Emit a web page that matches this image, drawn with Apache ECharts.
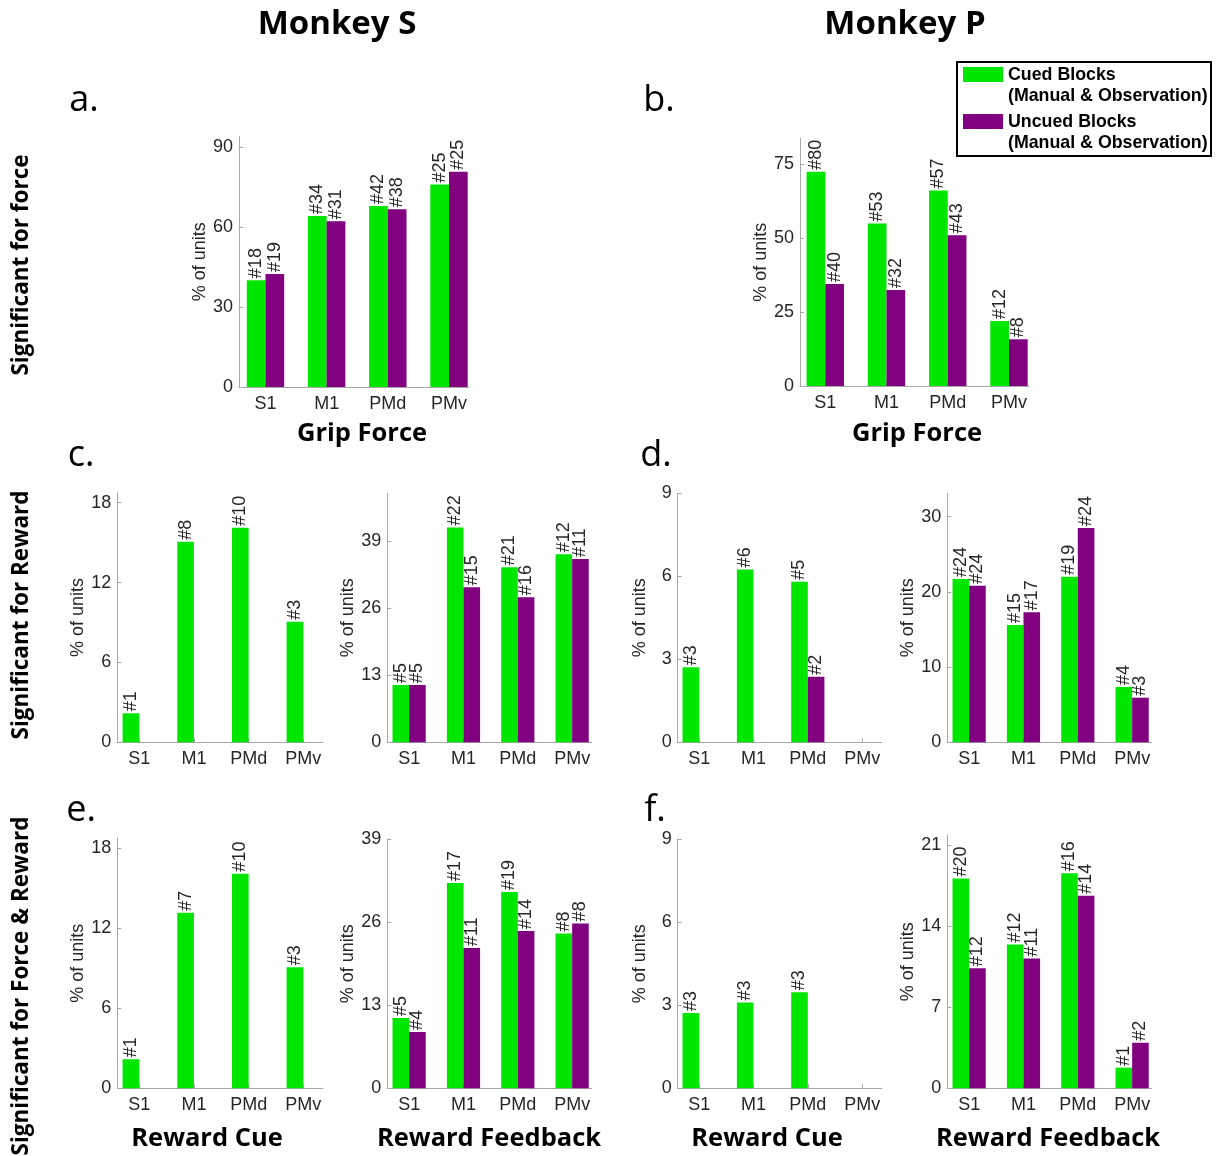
<!DOCTYPE html>
<html><head><meta charset="utf-8">
<script src="https://cdn.jsdelivr.net/npm/echarts@6/dist/echarts.min.js"></script>
<style>html,body{margin:0;padding:0;background:#fff}#c{width:1225px;height:1156px}</style>
</head><body><div id="c"></div>
<script>
// ---------- DATA ----------
const regions = ['S1', 'M1', 'PMd', 'PMv'];
const seriesNames = ['Cued Blocks (Manual & Observation)', 'Uncued Blocks (Manual & Observation)'];

// a. Monkey S, grip force
const aCued = [40.1, 64.2, 67.9, 76.0];
const aCuedN = [18, 34, 42, 25];
const aUncued = [42.4, 62.2, 66.7, 80.8];
const aUncuedN = [19, 31, 38, 25];
// b. Monkey P, grip force
const bCued = [72.5, 55.0, 66.1, 22.0];
const bCuedN = [80, 53, 57, 12];
const bUncued = [34.5, 32.5, 51.0, 15.8];
const bUncuedN = [40, 32, 43, 8];
// c. Monkey S, reward cue
const c1Cued = [2.18, 15.07, 16.12, 9.06];
const c1CuedN = [1, 8, 10, 3];
const c1Uncued = [null, null, null, null];
const c1UncuedN = [null, null, null, null];
// c. Monkey S, reward feedback
const c2Cued = [11.1, 41.6, 33.9, 36.4];
const c2CuedN = [5, 22, 21, 12];
const c2Uncued = [11.1, 30.0, 28.1, 35.5];
const c2UncuedN = [5, 15, 16, 11];
// d. Monkey P, reward cue
const d1Cued = [2.71, 6.25, 5.80, null];
const d1CuedN = [3, 6, 5, null];
const d1Uncued = [null, null, 2.37, null];
const d1UncuedN = [null, null, 2, null];
// d. Monkey P, reward feedback
const d2Cued = [21.7, 15.6, 22.0, 7.35];
const d2CuedN = [24, 15, 19, 4];
const d2Uncued = [20.8, 17.3, 28.5, 5.93];
const d2UncuedN = [24, 17, 24, 3];
// e. Monkey S, force & reward, reward cue
const e1Cued = [2.18, 13.17, 16.1, 9.08];
const e1CuedN = [1, 7, 10, 3];
const e1Uncued = [null, null, null, null];
const e1UncuedN = [null, null, null, null];
// e. Monkey S, force & reward, reward feedback
const e2Cued = [11.0, 32.1, 30.7, 24.2];
const e2CuedN = [5, 17, 19, 8];
const e2Uncued = [8.8, 21.96, 24.6, 25.8];
const e2UncuedN = [4, 11, 14, 8];
// f. Monkey P, force & reward, reward cue
const f1Cued = [2.72, 3.10, 3.47, null];
const f1CuedN = [3, 3, 3, null];
const f1Uncued = [null, null, null, null];
const f1UncuedN = [null, null, null, null];
// f. Monkey P, force & reward, reward feedback
const f2Cued = [18.1, 12.4, 18.55, 1.78];
const f2CuedN = [20, 12, 16, 1];
const f2Uncued = [10.35, 11.2, 16.6, 3.93];
const f2UncuedN = [12, 11, 14, 2];

// y-axis limits and tick steps per panel
const yMax = [94, 83.8, 18.75, 48.2, 9, 33.1, 18.75, 39, 9, 21.85];
const yStep = [30, 25, 6, 13, 3, 10, 6, 13, 3, 7];

// ---------- LAYOUT ----------
const C_GREEN = '#00e600', C_PURPLE = '#800080';
const AX = '#a8a8a8', TXT = '#262626';
const FONT = '"Liberation Sans", Arial, sans-serif';
const HEAD = '"Open Sans", "Noto Sans", sans-serif';

// pixel frame of each axes box: left, right, zeroY
const frames = [
  {l: 239, r: 469, z: 387, xmin: 0.567, xmax: 4.327},
  {l: 800, r: 1029, z: 386, xmin: 0.587, xmax: 4.327},
  {l: 117.3, r: 323, z: 742.3, xmin: 0.598, xmax: 4.36},
  {l: 387.3, r: 591.7, z: 742.3, xmin: 0.598, xmax: 4.36},
  {l: 677.7, r: 881.7, z: 742.3, xmin: 0.605, xmax: 4.36},
  {l: 947.3, r: 1151.7, z: 742.3, xmin: 0.598, xmax: 4.36},
  {l: 117.3, r: 323, z: 1088.3, xmin: 0.598, xmax: 4.36},
  {l: 387.3, r: 591.7, z: 1088.3, xmin: 0.598, xmax: 4.36},
  {l: 677.7, r: 881.7, z: 1088.3, xmin: 0.605, xmax: 4.36},
  {l: 947.3, r: 1151.7, z: 1088.3, xmin: 0.598, xmax: 4.36}
];
const heights = [250.5, 247.7, 249.6, 249, 249, 249, 250, 249.3, 249.3, 253.3];

const panels = [
  [aCued, aCuedN, aUncued, aUncuedN],
  [bCued, bCuedN, bUncued, bUncuedN],
  [c1Cued, c1CuedN, c1Uncued, c1UncuedN],
  [c2Cued, c2CuedN, c2Uncued, c2UncuedN],
  [d1Cued, d1CuedN, d1Uncued, d1UncuedN],
  [d2Cued, d2CuedN, d2Uncued, d2UncuedN],
  [e1Cued, e1CuedN, e1Uncued, e1UncuedN],
  [e2Cued, e2CuedN, e2Uncued, e2UncuedN],
  [f1Cued, f1CuedN, f1Uncued, f1UncuedN],
  [f2Cued, f2CuedN, f2Uncued, f2UncuedN]
];

const grid = [], xAxis = [], yAxis = [], series = [];
panels.forEach((p, i) => {
  const f = frames[i];
  const w = f.r - f.l, h = heights[i];
  grid.push({left: f.l, top: f.z - h, width: w, height: h, containLabel: false});
  const unit = w / (f.xmax - f.xmin);
  const bw = Math.round(unit * 0.305 * 10) / 10;
  xAxis.push({
    type: 'value', gridIndex: i, min: f.xmin, max: f.xmax,
    splitLine: {show: false},
    axisLine: {show: true, onZero: false, lineStyle: {color: AX, width: 1}},
    axisTick: {show: true, inside: true, length: 4, customValues: [1, 2, 3, 4], lineStyle: {color: AX}},
    axisLabel: {
      customValues: [1, 2, 3, 4],
      color: TXT, fontSize: 18, fontFamily: FONT, margin: 8,
      formatter: v => (Math.abs(v - Math.round(v)) < 1e-6 && v >= 1 && v <= 4) ? regions[Math.round(v) - 1] : ''
    }
  });
  const ticks = [];
  for (let t = 0; t <= yMax[i] + 1e-9; t += yStep[i]) ticks.push(t);
  yAxis.push({
    type: 'value', gridIndex: i, min: 0, max: yMax[i], interval: yStep[i],
    splitLine: {show: false},
    axisLine: {show: true, lineStyle: {color: AX, width: 1}},
    axisTick: {show: true, inside: true, length: 4, customValues: ticks, lineStyle: {color: AX}},
    axisLabel: {
      customValues: ticks, color: TXT, fontSize: 18, fontFamily: FONT, margin: 6,
      formatter: v => (Math.abs(v / yStep[i] - Math.round(v / yStep[i])) < 1e-6) ? String(Math.round(v)) : ''
    },
    name: '% of units', nameLocation: 'middle', nameGap: 29,
    nameTextStyle: {color: TXT, fontSize: 18, fontFamily: FONT}
  });
  const mk = (vals, counts, color, name) => ({
    type: 'bar', name: name, xAxisIndex: i, yAxisIndex: i,
    barWidth: bw, barGap: '0%',
    itemStyle: {color: color},
    data: vals.map((v, k) => [k + 1, v == null ? '-' : v]),
    label: {
      show: true, position: 'top', rotate: 90, align: 'left', verticalAlign: 'middle', distance: 2,
      color: TXT, fontSize: 18, fontFamily: FONT,
      formatter: prm => counts[prm.dataIndex] == null ? '' : '#' + counts[prm.dataIndex]
    },
    animation: false
  });
  series.push(mk(p[0], p[1], C_GREEN, seriesNames[0]));
  series.push(mk(p[2], p[3], C_PURPLE, seriesNames[1]));
});

const txt = (x, y, s, opt) => Object.assign({
  type: 'text', x: x, y: y,
  style: Object.assign({text: s, fill: '#000', align: 'center', verticalAlign: 'middle'}, opt.style || {})
}, opt.el || {});

const graphic = [
  txt(337, 25, 'Monkey S', {style: {font: 'bold 33px ' + HEAD}}),
  txt(905, 25, 'Monkey P', {style: {font: 'bold 33px ' + HEAD}}),
  txt(84, 101, 'a.', {style: {font: '36px ' + HEAD}}),
  txt(659, 101, 'b.', {style: {font: '36px ' + HEAD}}),
  txt(81, 456, 'c.', {style: {font: '36px ' + HEAD}}),
  txt(656, 456, 'd.', {style: {font: '36px ' + HEAD}}),
  txt(81, 811, 'e.', {style: {font: '36px ' + HEAD}}),
  txt(655, 811, 'f.', {style: {font: '36px ' + HEAD}}),
  txt(362, 434, 'Grip Force', {style: {font: 'bold 25.5px ' + HEAD}}),
  txt(917, 434, 'Grip Force', {style: {font: 'bold 25.5px ' + HEAD}}),
  txt(207, 1139, 'Reward Cue', {style: {font: 'bold 25.5px ' + HEAD}}),
  txt(489, 1139, 'Reward Feedback', {style: {font: 'bold 25.5px ' + HEAD}}),
  txt(767, 1139, 'Reward Cue', {style: {font: 'bold 25.5px ' + HEAD}}),
  txt(1048, 1139, 'Reward Feedback', {style: {font: 'bold 25.5px ' + HEAD}}),
  txt(22, 265, 'Significant for force', {style: {font: 'bold 22.5px ' + HEAD}, el: {rotation: Math.PI / 2}}),
  txt(22, 615, 'Significant for Reward', {style: {font: 'bold 22.5px ' + HEAD}, el: {rotation: Math.PI / 2}}),
  txt(22, 986, 'Significant for Force & Reward', {style: {font: 'bold 22.5px ' + HEAD}, el: {rotation: Math.PI / 2}}),
  // legend
  {type: 'rect', shape: {x: 957, y: 62, width: 254, height: 94}, style: {fill: '#fff', stroke: '#000', lineWidth: 2}},
  {type: 'rect', shape: {x: 963, y: 67, width: 40, height: 15}, style: {fill: C_GREEN}},
  {type: 'rect', shape: {x: 963, y: 114, width: 40, height: 15}, style: {fill: C_PURPLE}},
  txt(1008, 75, 'Cued Blocks', {style: {font: 'bold 17.8px ' + FONT, align: 'left'}}),
  txt(1008, 96, '(Manual & Observation)', {style: {font: 'bold 17.8px ' + FONT, align: 'left'}}),
  txt(1008, 122, 'Uncued Blocks', {style: {font: 'bold 17.8px ' + FONT, align: 'left'}}),
  txt(1008, 143, '(Manual & Observation)', {style: {font: 'bold 17.8px ' + FONT, align: 'left'}})
];

const chart = echarts.init(document.getElementById('c'), null, {renderer: 'canvas'});
chart.setOption({
  backgroundColor: '#fff',
  animation: false,
  grid: grid, xAxis: xAxis, yAxis: yAxis, series: series,
  graphic: graphic
});
</script></body></html>
